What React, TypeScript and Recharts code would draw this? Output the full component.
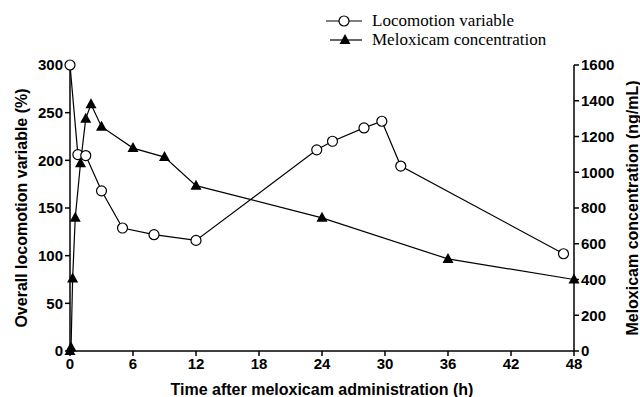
import { LineChart, Line, XAxis, YAxis, Legend } from 'recharts';

// sampling times (h) and values
const locoTimes = [0, 0.75, 1.5, 3, 5, 8, 12, 23.5, 25, 28, 29.7, 31.5, 47];
const locoValues = [300, 206, 205, 168, 129, 122, 116, 211, 220, 234, 241, 194, 102];

const meloxTimes = [0, 0.1, 0.25, 0.5, 1, 1.5, 2, 3, 6, 9, 12, 24, 36, 48];
const meloxValues = [0, 20, 405, 745, 1050, 1300, 1380, 1255, 1135, 1085, 925, 745, 515, 400];

const xTicks = [0, 6, 12, 18, 24, 30, 36, 42, 48];
const leftTicks = [0, 50, 100, 150, 200, 250, 300];
const rightTicks = [0, 200, 400, 600, 800, 1000, 1200, 1400, 1600];

const FONT = '"Liberation Sans", Arial, sans-serif';
const SERIF = '"Liberation Serif", "Times New Roman", serif';

// merge both series onto one time axis
const rows: Record<number, { t: number; loco?: number; melox?: number }> = {};
locoTimes.forEach((t, i) => {
  rows[t] = { ...(rows[t] || { t }), loco: locoValues[i] };
});
meloxTimes.forEach((t, i) => {
  rows[t] = { ...(rows[t] || { t }), melox: meloxValues[i] };
});
const data = Object.values(rows).sort((a, b) => a.t - b.t);

const Triangle = (props: any) => {
  const { cx, cy, key } = props;
  if (cx == null || cy == null || props.value == null) return null;
  return (
    <polygon
      key={key}
      points={`${cx},${cy - 6} ${cx - 5.5},${cy + 4} ${cx + 5.5},${cy + 4}`}
      fill="#000"
    />
  );
};

const tickStyle = { fontFamily: FONT, fontSize: 15, fontWeight: 700, fill: '#000' };
const titleStyle = { fontFamily: FONT, fontSize: 16, fontWeight: 700, fill: '#000', textAnchor: 'middle' };

const LegendBox = () => (
  <div style={{ fontFamily: SERIF, fontSize: 17, color: '#000', lineHeight: '19px' }}>
    <div style={{ display: 'flex', alignItems: 'center' }}>
      <svg width={40} height={19}>
        <line x1={0} y1={10} x2={36} y2={10} stroke="#000" strokeWidth={1.2} />
        <circle cx={18} cy={10} r={5} fill="#fff" stroke="#000" strokeWidth={1.2} />
      </svg>
      <span style={{ marginLeft: 6 }}>Locomotion variable</span>
    </div>
    <div style={{ display: 'flex', alignItems: 'center' }}>
      <svg width={40} height={19}>
        <line x1={4} y1={10} x2={36} y2={10} stroke="#000" strokeWidth={1.2} />
        <polygon points="19,4 13.5,14 24.5,14" fill="#000" />
      </svg>
      <span style={{ marginLeft: 6 }}>Meloxicam concentration</span>
    </div>
  </div>
);

export default function App() {
  return (
    <div style={{ position: 'absolute', left: 0, top: 0, background: '#fff' }}>
      <LineChart width={640} height={397} data={data} margin={{ top: 27, right: 0, bottom: 0, left: 0 }}>
        <XAxis
          dataKey="t"
          type="number"
          domain={[0, 48]}
          ticks={xTicks}
          height={46}
          tick={tickStyle}
          stroke="#000"
          strokeWidth={1.5}
          tickSize={5}
          label={{ value: 'Time after meloxicam administration (h)', position: 'center', dy: 15, style: titleStyle }}
        />
        <YAxis
          yAxisId="left"
          domain={[0, 300]}
          ticks={leftTicks}
          width={70}
          tick={tickStyle}
          stroke="#000"
          strokeWidth={1.5}
          tickSize={5}
          label={{ value: 'Overall locomotion variable (%)', angle: -90, position: 'center', dx: -14, style: titleStyle }}
        />
        <YAxis
          yAxisId="right"
          orientation="right"
          domain={[0, 1600]}
          ticks={rightTicks}
          width={66}
          tick={tickStyle}
          stroke="#000"
          strokeWidth={1.5}
          tickSize={5}
          label={{ value: 'Meloxicam concentration (ng/mL)', angle: -90, position: 'center', dx: 25, style: titleStyle }}
        />
        <Legend
          verticalAlign="top"
          align="left"
          content={<LegendBox />}
          wrapperStyle={{ top: 11, left: 326, width: 280 }}
        />
        <Line
          yAxisId="left"
          dataKey="loco"
          type="linear"
          stroke="#000"
          strokeWidth={1.2}
          connectNulls
          dot={{ r: 5, fill: '#fff', stroke: '#000', strokeWidth: 1.2 }}
          isAnimationActive={false}
        />
        <Line
          yAxisId="right"
          dataKey="melox"
          type="linear"
          stroke="#000"
          strokeWidth={1.2}
          connectNulls
          dot={<Triangle />}
          isAnimationActive={false}
        />
      </LineChart>
    </div>
  );
}
